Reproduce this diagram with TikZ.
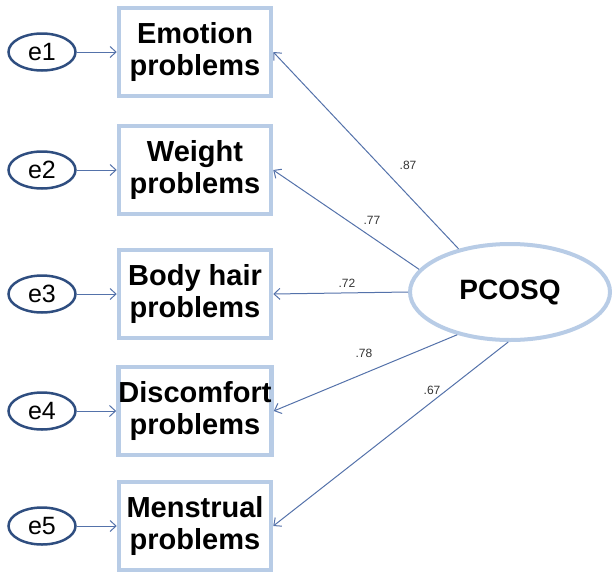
\documentclass[tikz,border=0pt]{standalone}
\usepackage{fontspec}
\setmainfont{Liberation Sans}
\usetikzlibrary{arrows.meta,shapes.geometric}
\definecolor{boxblue}{RGB}{184,204,230}
\definecolor{errblue}{RGB}{47,78,128}
\definecolor{pathblue}{RGB}{84,114,170}
\tikzset{
  item/.style={draw=boxblue,line width=4.5pt,fill=white,minimum width=152pt,minimum height=88pt,
    align=center,inner sep=0pt,font=\fontsize{29}{32}\selectfont\bfseries},
  err/.style={draw=errblue,ellipse,line width=2.5pt,minimum width=67pt,minimum height=37pt,
    inner sep=0pt,font=\fontsize{25}{27}\selectfont},
  factor/.style={draw=boxblue,ellipse,line width=4pt,minimum width=200pt,minimum height=96pt,
    inner sep=0pt,font=\fontsize{28}{30}\selectfont\bfseries},
  path/.style={draw=pathblue,line width=1pt,-{Straight Barb[length=6pt,width=11pt]}},
  coef/.style={font=\fontsize{12}{13}\selectfont,text=black!80}
}
\begin{document}
\begin{tikzpicture}[x=1pt,y=-1pt]
\useasboundingbox (0,0) rectangle (613,576);
% observed indicators
\node[item] (emo) at (195,52) {Emotion\\problems};
\node[item] (wgt) at (195,170) {Weight\\problems};
\node[item] (hair) at (195,294) {Body hair\\problems};
\node[item] (disc) at (195,411) {Discomfort\\problems};
\node[item] (mens) at (195,526) {Menstrual\\problems};
% error terms
\node[err] (e1) at (42,52) {e1};
\node[err] (e2) at (42,170) {e2};
\node[err] (e3) at (42,294) {e3};
\node[err] (e4) at (42,411) {e4};
\node[err] (e5) at (42,526) {e5};
\foreach \e/\b in {e1/emo,e2/wgt,e3/hair,e4/disc,e5/mens}
  \draw[path] (\e.east) -- (\b.west);
% latent factor
\node[factor] (pcosq) at (510,292) {PCOSQ};
\draw[path] (pcosq.140) -- (emo.east);
\draw[path] (pcosq.166) -- (wgt.east);
\draw[path] (pcosq.west) -- (hair.east);
\draw[path] (pcosq.219) -- (disc.east);
\draw[path] (pcosq.268) -- (mens.east);
% loadings
\node[coef] (l1) at (408,165) {.87};
\node[coef] (l2) at (372,220) {.77};
\node[coef] (l3) at (347,283) {.72};
\node[coef] (l4) at (364,353) {.78};
\node[coef] (l5) at (432,390) {.67};
\end{tikzpicture}
\end{document}
